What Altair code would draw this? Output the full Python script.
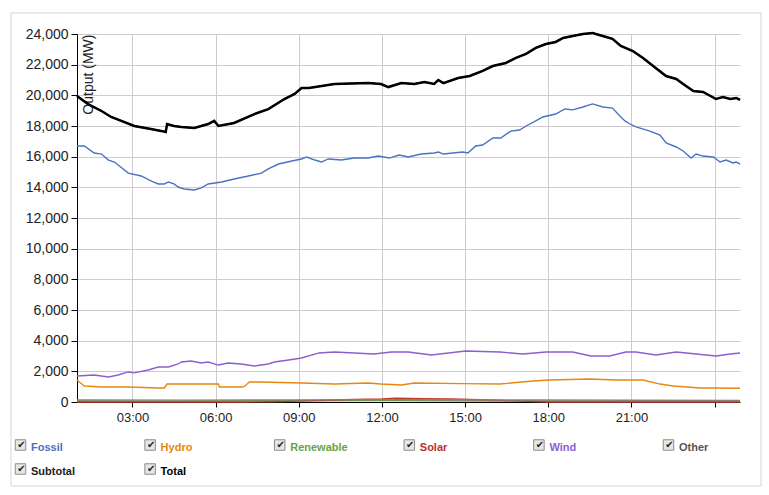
import altair as alt
import pandas as pd

# ---------------- data ----------------
series_names = ["Fossil", "Hydro", "Renewable", "Solar", "Wind", "Other", "Subtotal", "Total"]
line_colors = ["#4a72c2", "#e8870e", "#5ea83a", "#c0392b", "#8a5fd0", "#8a7f74", "#111111", "#000000"]
label_colors = ["#4e6fc0", "#e8870e", "#6aa33a", "#b8312f", "#8a5fd0", "#555555", "#222222", "#000000"]
line_widths = [1.4, 1.4, 1.4, 1.4, 1.4, 1.4, 1.5, 2.5]
legend_cols = [0, 1, 2, 3, 4, 5, 0, 1]
legend_rows = [0, 0, 0, 0, 0, 0, 1, 1]

total_t = ["01:00", "01:24", "01:53", "02:14", "02:36", "03:04", "03:40", "04:02", "04:12", "04:15",
           "04:30", "04:46", "05:14", "05:44", "05:57", "06:06", "06:40", "07:24", "07:54", "08:29",
           "08:51", "09:06", "09:22", "10:17", "11:30", "11:58", "12:14", "12:42", "13:10", "13:32",
           "13:53", "14:02", "14:13", "14:45", "15:10", "15:38", "16:00", "16:28", "16:50", "17:12",
           "17:33", "17:55", "18:16", "18:32", "18:53", "19:15", "19:36", "19:43", "19:58", "20:19",
           "20:37", "21:03", "21:25", "21:47", "22:15", "22:37", "22:52", "23:14", "23:35", "00:03",
           "00:18", "00:34", "00:47", "00:55"]
total_v = [19950, 19430, 18980, 18590, 18330, 18000, 17800, 17680, 17610, 18130,
           18000, 17935, 17870, 18130, 18330, 18000, 18200, 18780, 19100, 19760,
           20090, 20480, 20480, 20740, 20800, 20740, 20540, 20800, 20740, 20870,
           20740, 21000, 20800, 21130, 21260, 21590, 21910, 22110, 22440, 22700,
           23090, 23350, 23480, 23740, 23870, 24000, 24070, 24000, 23870, 23680,
           23220, 22890, 22440, 21910, 21260, 21070, 20740, 20280, 20220, 19760,
           19890, 19760, 19830, 19700]

fossil_t = ["01:00", "01:16", "01:37", "01:53", "02:08", "02:21", "02:51", "03:19", "03:41", "03:56",
            "04:09", "04:18", "04:30", "04:39", "04:52", "05:14", "05:29", "05:44", "06:13", "06:40",
            "07:11", "07:39", "07:54", "08:16", "08:45", "09:06", "09:17", "09:35", "09:49", "10:04",
            "10:32", "11:00", "11:30", "11:52", "12:16", "12:37", "12:57", "13:25", "13:53", "14:02",
            "14:13", "14:55", "15:06", "15:23", "15:38", "16:00", "16:17", "16:39", "16:58", "17:12",
            "17:33", "17:48", "18:16", "18:36", "18:53", "19:15", "19:36", "19:58", "20:19", "20:35",
            "20:46", "20:57", "21:10", "21:40", "22:02", "22:15", "22:37", "22:52", "23:09", "23:20",
            "23:35", "23:57", "00:12", "00:25", "00:40", "00:47", "00:55"]
fossil_v = [16700, 16700, 16240, 16170, 15780, 15650, 14930, 14740, 14410, 14220,
            14220, 14350, 14220, 14020, 13890, 13830, 13960, 14220, 14350, 14540,
            14740, 14930, 15200, 15520, 15720, 15850, 15980, 15780, 15650, 15850,
            15780, 15910, 15910, 16040, 15910, 16110, 15980, 16170, 16240, 16300,
            16170, 16300, 16240, 16700, 16760, 17220, 17220, 17670, 17740, 18000,
            18330, 18590, 18780, 19110, 19050, 19240, 19440, 19240, 19170, 18650,
            18330, 18130, 17940, 17670, 17410, 16890, 16630, 16370, 15910, 16170,
            16040, 15980, 15650, 15780, 15590, 15650, 15520]

wind_t = ["01:00", "01:37", "02:08", "02:29", "02:51", "03:04", "03:34", "03:56", "04:18", "04:39",
          "04:46", "05:07", "05:29", "05:44", "06:06", "06:27", "06:55", "07:24", "07:54", "08:07",
          "08:38", "09:06", "09:44", "10:17", "11:00", "11:43", "12:20", "12:57", "13:47", "15:01",
          "16:15", "17:05", "17:55", "18:53", "19:32", "20:13", "20:48", "21:10", "21:53", "22:37",
          "23:20", "00:03", "00:34", "00:55"]
wind_v = [1700, 1760, 1630, 1760, 1960, 1900, 2090, 2280, 2280, 2480,
          2610, 2670, 2540, 2610, 2410, 2540, 2480, 2350, 2480, 2610,
          2740, 2870, 3200, 3260, 3200, 3130, 3260, 3260, 3070, 3330,
          3260, 3130, 3260, 3260, 3000, 3000, 3260, 3260, 3070, 3260,
          3130, 3000, 3130, 3200]

hydro_t = ["01:00", "01:05", "01:16", "01:53", "02:51", "03:56", "04:09", "04:15", "04:30", "05:57",
           "06:06", "06:08", "06:55", "07:02", "07:13", "07:39", "09:06", "10:17", "11:30", "11:58",
           "12:42", "13:10", "14:55", "16:15", "17:27", "18:03", "19:30", "20:26", "21:25", "22:02",
           "22:30", "23:29", "23:57", "00:55"]
hydro_v = [1430, 1300, 1040, 980, 980, 915, 915, 1170, 1170, 1170,
           1170, 980, 980, 1000, 1300, 1300, 1240, 1170, 1240, 1170,
           1110, 1240, 1200, 1170, 1370, 1430, 1500, 1430, 1430, 1170,
           1040, 915, 915, 900]

solar_t = ["01:00", "07:00", "08:00", "09:00", "10:00", "11:00", "12:00", "12:30", "13:30", "14:30",
           "15:30", "16:30", "17:30", "18:00", "00:55"]
solar_v = [0, 0, 20, 60, 110, 170, 200, 240, 220, 200,
           150, 90, 30, 0, 0]

renew_t = ["01:00", "04:00", "08:00", "12:00", "16:00", "20:00", "00:55"]
renew_v = [70, 60, 80, 90, 70, 60, 70]

other_t = ["01:00", "05:00", "09:00", "13:00", "17:00", "21:00", "00:55"]
other_v = [130, 120, 140, 150, 130, 110, 100]

x_tick_hours = [3, 6, 9, 12, 15, 18, 21, 24]
y_ticks = list(range(0, 24001, 2000))


def to_dt(s):
    h, m = (int(p) for p in s.split(":"))
    day = 2 if h < 1 else 1
    return pd.Timestamp(2024, 1, day, h, m)


series_data = {
    "Fossil": (fossil_t, fossil_v),
    "Hydro": (hydro_t, hydro_v),
    "Renewable": (renew_t, renew_v),
    "Solar": (solar_t, solar_v),
    "Wind": (wind_t, wind_v),
    "Other": (other_t, other_v),
    "Subtotal": (total_t, total_v),
    "Total": (total_t, total_v),
}

x_scale = alt.Scale(domain=[alt.DateTime(year=2024, month=1, date=1, hours=1),
                            alt.DateTime(year=2024, month=1, date=2, hours=0, minutes=55)])
x_values = [alt.DateTime(year=2024, month=1, date=1 + h // 24, hours=h % 24) for h in x_tick_hours]
y_scale = alt.Scale(domain=[0, 24000], nice=False)

x_enc = alt.X("time:T", scale=x_scale, title=None,
              axis=alt.Axis(values=x_values, grid=True, tickSize=5, labelPadding=4,
                            labelFontSize=13, labelFlush=False,
                            labelExpr="hours(datum.value) == 0 ? '' : timeFormat(datum.value, '%H:%M')"))
y_enc = alt.Y("value:Q", scale=y_scale,
              axis=alt.Axis(values=y_ticks, labelFontSize=14, tickSize=6, labelPadding=3,
                            labelExpr="format(datum.value, ',.0f')",
                            title="Output (MW)", titleAngle=270, titleX=4, titleY=0,
                            titleAlign="right", titleBaseline="top", titleFontSize=14,
                            titleFontWeight="normal", titleColor="#222222"))

layers = []
# outer frame of the widget
frame = alt.Chart(pd.DataFrame({"k": [0]})).mark_rect(
    fillOpacity=0, stroke="#d4d4d4", strokeWidth=1
).encode(x=alt.value(-66), x2=alt.value(684), y=alt.value(-21), y2=alt.value(452))
layers.append(frame)

for name, col, w in zip(series_names, line_colors, line_widths):
    ts, vs = series_data[name]
    df = pd.DataFrame({"time": [to_dt(t) for t in ts], "value": vs, "series": name})
    layers.append(
        alt.Chart(df).mark_line(color=col, strokeWidth=w, interpolate="linear").encode(
            x=x_enc, y=y_enc
        )
    )

top = alt.layer(*layers).properties(width=663, height=368)

legend_df = pd.DataFrame({
    "name": series_names,
    "col": legend_cols,
    "row": legend_rows,
    "tcolor": label_colors,
})
lbase = alt.Chart(legend_df).encode(
    x=alt.X("col:Q", scale=alt.Scale(domain=[0, 5], range=[-56.5, 591.5], nice=False), axis=None),
    y=alt.Y("row:Q", scale=alt.Scale(domain=[0, 1], range=[13, 37], nice=False), axis=None),
)
boxes = lbase.mark_square(size=110, fill="#e6e6e6", stroke="#8c8c8c", strokeWidth=1, opacity=1)
checks = lbase.mark_text(text="\u2714", font="DejaVu Sans", fontSize=10, color="#222222",
                         dx=1, dy=0, baseline="middle", align="center")
labels = lbase.mark_text(align="left", baseline="middle", dx=10.5, dy=3, fontSize=11,
                         fontWeight="bold", font="Liberation Sans").encode(
    text="name:N", color=alt.Color("tcolor:N", scale=None)
)
legend_chart = alt.layer(boxes, checks, labels).properties(width=663, height=50)

chart = alt.vconcat(top, legend_chart, spacing=30, bounds="flush").properties(
    padding={"left": 10, "top": 12, "right": 5, "bottom": 5},
    background="white",
).configure_view(strokeWidth=0).configure_axis(
    labelFont="Liberation Sans", titleFont="Liberation Sans", labelColor="#222222",
    domainColor="#000000", tickColor="#000000", gridColor="#cccccc", gridWidth=1,
)

chart.save("out.html", embed_options={"renderer": "svg", "actions": False})
